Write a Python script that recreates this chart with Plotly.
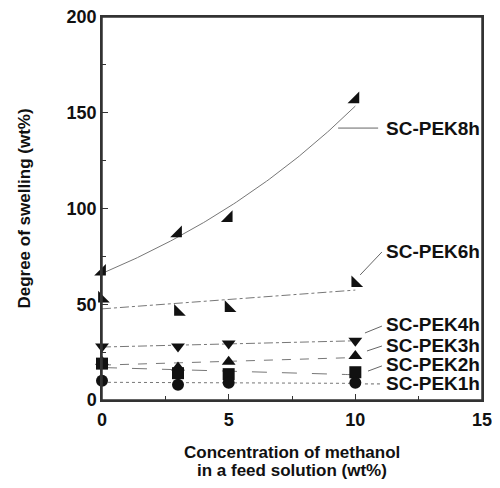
import numpy as np
import plotly.graph_objects as go

conc = [0, 3, 5, 10]
names = ["SC-PEK8h", "SC-PEK6h", "SC-PEK4h", "SC-PEK3h", "SC-PEK2h", "SC-PEK1h"]
pek8h = [67, 87, 95, 157]
pek6h = [53, 46, 48, 61]
pek4h = [28, 28, 29.5, 31]
pek3h = [20, 17, 20, 23]
pek2h = [19, 14, 13.5, 14.5]
pek1h = [10, 8, 9, 9]
series = [pek8h, pek6h, pek4h, pek3h, pek2h, pek1h]
symbols = ["triangle-se", "triangle-sw", "triangle-down", "triangle-up", "square", "circle"]
dashes = ["solid", "dashdot", "dashdot", "dash", "longdash", "dot"]
sizes = [13, 13, 12, 12, 12, 12]

# label text positions (data coords) and leader lines
label_x = 11.15
label_y = [142, 77.3, 39.2, 28.7, 18.3, 8.4]
leaders = [
    (9.32, 142, 10.9, 142),
    (10.19, 65.3, 11.05, 77.3),
    (10.38, 35.0, 11.05, 38.6),
    (10.46, 25.6, 11.05, 28.2),
    (10.50, 15.1, 11.05, 17.8),
    (10.38, 8.4, 11.05, 8.4),
]

FONT = dict(family="Liberation Sans", size=18, color="#111", weight="bold")
LFONT = dict(family="Liberation Sans", size=19, color="#111", weight="bold")
TFONT = dict(family="Liberation Sans", size=17, color="#111", weight="bold")

fig = go.Figure()
xfit = np.linspace(0, 10, 101)
for i, (name, ys) in enumerate(zip(names, series)):
    xs = np.array(conc, dtype=float)
    y = np.array(ys, dtype=float)
    if i == 0:
        b, lna = np.polyfit(xs, np.log(y), 1)
        yfit = np.exp(lna + b * xfit)
    else:
        b, a = np.polyfit(xs, y, 1)
        yfit = a + b * xfit
    fig.add_trace(go.Scatter(x=xfit, y=yfit, mode="lines",
                             line=dict(color="#777", width=1, dash=dashes[i]),
                             showlegend=False, hoverinfo="skip", cliponaxis=False))
    fig.add_trace(go.Scatter(x=conc, y=ys, mode="markers", name=name,
                             marker=dict(symbol=symbols[i], size=sizes[i], color="#111"),
                             showlegend=False, cliponaxis=False))

for i, name in enumerate(names):
    fig.add_annotation(x=label_x, y=label_y[i], xref="x", yref="y", text=name,
                       showarrow=False, xanchor="left", yanchor="middle", font=LFONT)
    x0, y0, x1, y1 = leaders[i]
    fig.add_shape(type="line", x0=x0, y0=y0, x1=x1, y1=y1, xref="x", yref="y",
                  line=dict(color="#666", width=1, dash="dot" if i == 5 else "solid"))

# frame
fig.add_shape(type="rect", x0=0, x1=1, y0=0, y1=1, xref="x domain", yref="y domain",
              line=dict(color="#333", width=1.5), layer="above")

# axis titles
fig.add_annotation(x=-0.205, y=0.5, xref="paper", yref="paper", text="Degree of swelling (wt%)",
                   textangle=-90, showarrow=False, xanchor="center", yanchor="middle", font=TFONT)
fig.add_annotation(x=0.5, y=-0.137, xref="paper", yref="paper",
                   text="Concentration of methanol",
                   showarrow=False, xanchor="center", yanchor="middle", font=TFONT)
fig.add_annotation(x=0.5, y=-0.183, xref="paper", yref="paper",
                   text="in a feed solution (wt%)",
                   showarrow=False, xanchor="center", yanchor="middle", font=TFONT)

axis_common = dict(showline=True, linecolor="#333", linewidth=1.5, mirror=True, automargin=False,
                   ticks="inside", ticklen=6, tickcolor="#333", showgrid=False, zeroline=False,
                   tickfont=FONT, ticklabeloverflow="allow")
fig.update_xaxes(range=[0, 15], tickvals=[0, 5, 10, 15], ticklabelstandoff=3,
                 minor=dict(ticks="inside", ticklen=4, dtick=2.5, tick0=0, tickcolor="#333"),
                 **axis_common)
fig.update_yaxes(range=[0, 200], tickvals=[0, 50, 100, 150, 200],
                 minor=dict(ticks="inside", ticklen=4, dtick=25, tick0=0, tickcolor="#333"),
                 **axis_common)

# the page body adds an 8px margin; size the figure so the page fits the window exactly
fig.update_layout(width=484, height=472, margin=dict(l=94, r=10, t=9, b=80),
                  plot_bgcolor="white", paper_bgcolor="white")
fig.write_html("out.html")
